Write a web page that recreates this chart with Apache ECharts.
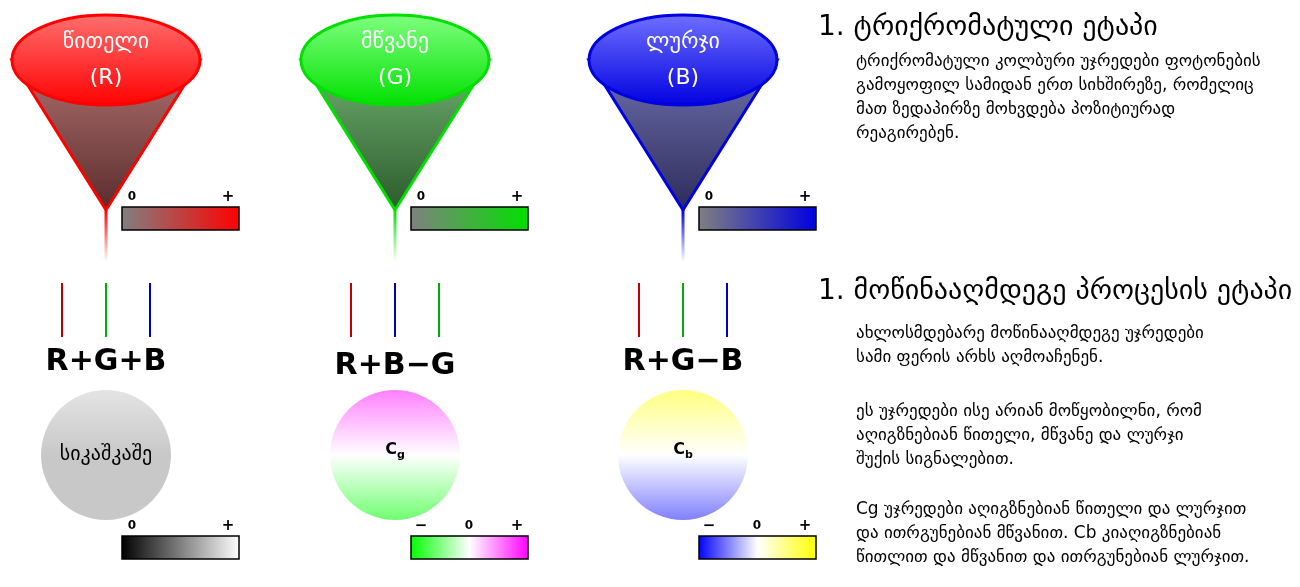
<!DOCTYPE html>
<html><head><meta charset="utf-8">
<script src="https://cdn.jsdelivr.net/npm/echarts@6/dist/echarts.min.js"></script>
<style>html,body{margin:0;background:#fff}#main{width:1300px;height:587px}</style>
</head><body><div id="main"></div>
<script>
// column data
var coneNames = ['წითელი\n(R)', 'მწვანე\n(G)', 'ლურჯი\n(B)'];
var coneColors = ['#ff0000', '#00e000', '#0000e0'];
var coneLight = ['#ff7070', '#80ff80', '#7070ff'];
var coneMid = ['#b07070', '#70b070', '#7070b0'];
var coneDark = ['#5a2c2c', '#2c5a2c', '#2c2c5a'];
var signalOrder = [['#c00000', '#00b000', '#0000c0'], ['#c00000', '#0000c0', '#00b000'], ['#c00000', '#00b000', '#0000c0']];
var formulas = ['R+G+B', 'R+B−G', 'R+G−B'];
var circleLabels = ['სიკაშკაშე', 'C_g', 'C_b'];
var circleStops = [['#e4e4e4', '#c8c8c8', '#c8c8c8'], ['#ff80ff', '#ffffff', '#70ff70'], ['#ffff80', '#ffffff', '#8080ff']];
var barStops = [['#000000', '#ffffff'], ['#00ff00', '#ffffff', '#ff00ff'], ['#0000ff', '#ffffff', '#ffff00']];
var barTicks = [['0', '+'], ['−', '0', '+'], ['−', '0', '+']];
var colX = [106, 395, 683];

var heading1 = '1. ტრიქრომატული ეტაპი';
var body1 = 'ტრიქრომატული კოლბური უჯრედები ფოტონების\nგამოყოფილ სამიდან ერთ სიხშირეზე, რომელიც\nმათ ზედაპირზე მოხვდება პოზიტიურად\nრეაგირებენ.';
var heading2 = '1. მოწინააღმდეგე პროცესის ეტაპი';
var body2 = [
  'ახლოსმდებარე მოწინააღმდეგე უჯრედები\nსამი ფერის არხს აღმოაჩენენ.',
  'ეს უჯრედები ისე არიან მოწყობილნი, რომ\nაღიგზნებიან წითელი, მწვანე და ლურჯი\nშუქის სიგნალებით.',
  'Cg უჯრედები აღიგზნებიან წითელი და ლურჯით\nდა ითრგუნებიან მწვანით. Cb კიაღიგზნებიან\nწითლით და მწვანით და ითრგუნებიან ლურჯით.'
];

function lin(x1, y1, x2, y2, cols) {
  return new echarts.graphic.LinearGradient(x1, y1, x2, y2, cols.map(function (c, i) {
    return {offset: cols.length === 1 ? 0 : i / (cols.length - 1), color: c};
  }));
}
var FONT = 'DejaVu Sans';
var g = [];
colX.forEach(function (cx, i) {
  // cone
  g.push({type: 'polygon', shape: {points: [[cx - 94, 60], [cx + 94, 60], [cx, 210]]},
    style: {fill: lin(0, 0, 0, 1, [coneMid[i], coneDark[i]]), stroke: coneColors[i], lineWidth: 3}});
  g.push({type: 'ellipse', shape: {cx: cx, cy: 60, rx: 94, ry: 45},
    style: {fill: lin(0, 0, 0, 1, [coneLight[i], coneColors[i]]), stroke: coneColors[i], lineWidth: 3}});
  g.push({type: 'text', x: cx, y: 60, style: {text: coneNames[i], fill: '#fff', font: '22px ' + FONT,
    align: 'center', verticalAlign: 'middle', lineHeight: 36}});
  // stem
  g.push({type: 'rect', shape: {x: cx - 1.5, y: 210, width: 3, height: 52},
    style: {fill: lin(0, 0, 0, 1, [coneColors[i], '#ffffff'])}});
  // top bar
  g.push({type: 'rect', shape: {x: cx + 16, y: 207, width: 117, height: 23},
    style: {fill: lin(0, 0, 1, 0, ['#808080', coneColors[i]]), stroke: '#000', lineWidth: 1.5}});
  g.push({type: 'text', x: cx + 26, y: 197, style: {text: '0', font: 'bold 12px ' + FONT, align: 'center', verticalAlign: 'middle'}});
  g.push({type: 'text', x: cx + 122, y: 197, style: {text: '+', font: 'bold 15px ' + FONT, align: 'center', verticalAlign: 'middle'}});
  // signal lines
  signalOrder[i].forEach(function (c, k) {
    g.push({type: 'line', shape: {x1: cx - 44 + k * 44, y1: 283, x2: cx - 44 + k * 44, y2: 337},
      style: {stroke: c, lineWidth: 2}});
  });
  g.push({type: 'text', x: cx, y: i === 1 ? 366 : 362, style: {text: formulas[i], font: 'bold 30px ' + FONT,
    align: 'center', verticalAlign: 'middle', fill: '#000'}});
  // circle
  g.push({type: 'circle', shape: {cx: cx, cy: 455, r: 65},
    style: {fill: lin(0, 0, 0, 1, circleStops[i])}});
  if (i === 0) {
    g.push({type: 'text', x: cx, y: 455, style: {text: circleLabels[i], font: '20px ' + FONT,
      align: 'center', verticalAlign: 'middle'}});
  } else {
    g.push({type: 'text', x: cx, y: 450, style: {
      text: '{a|C}{b|' + circleLabels[i].slice(2) + '}', align: 'center', verticalAlign: 'middle',
      rich: {a: {font: 'bold 16px ' + FONT}, b: {font: 'bold 11px ' + FONT, padding: [10, 0, 0, 0]}}}});
  }
  // bottom bar
  g.push({type: 'rect', shape: {x: cx + 16, y: 536, width: 117, height: 23},
    style: {fill: lin(0, 0, 1, 0, barStops[i]), stroke: '#000', lineWidth: 1.5}});
  var tx = barTicks[i].length === 2 ? [cx + 26, cx + 122] : [cx + 26, cx + 74, cx + 122];
  barTicks[i].forEach(function (t, k) {
    g.push({type: 'text', x: tx[k], y: 526, style: {text: t, font: 'bold ' + (t === '0' ? 12 : 15) + 'px ' + FONT,
      align: 'center', verticalAlign: 'middle'}});
  });
});
g.push({type: 'text', x: 818, y: 28, style: {text: heading1, font: '28px ' + FONT, verticalAlign: 'middle'}});
g.push({type: 'text', x: 856, y: 50, style: {text: body1, font: '17px ' + FONT, lineHeight: 24}});
g.push({type: 'text', x: 818, y: 292, style: {text: heading2, font: '28px ' + FONT, verticalAlign: 'middle'}});
var by = [322, 400, 498];
body2.forEach(function (t, k) {
  g.push({type: 'text', x: 856, y: by[k], style: {text: t, font: '17px ' + FONT, lineHeight: 24}});
});

var chart = echarts.init(document.getElementById('main'));
chart.setOption({graphic: g});
</script></body></html>
